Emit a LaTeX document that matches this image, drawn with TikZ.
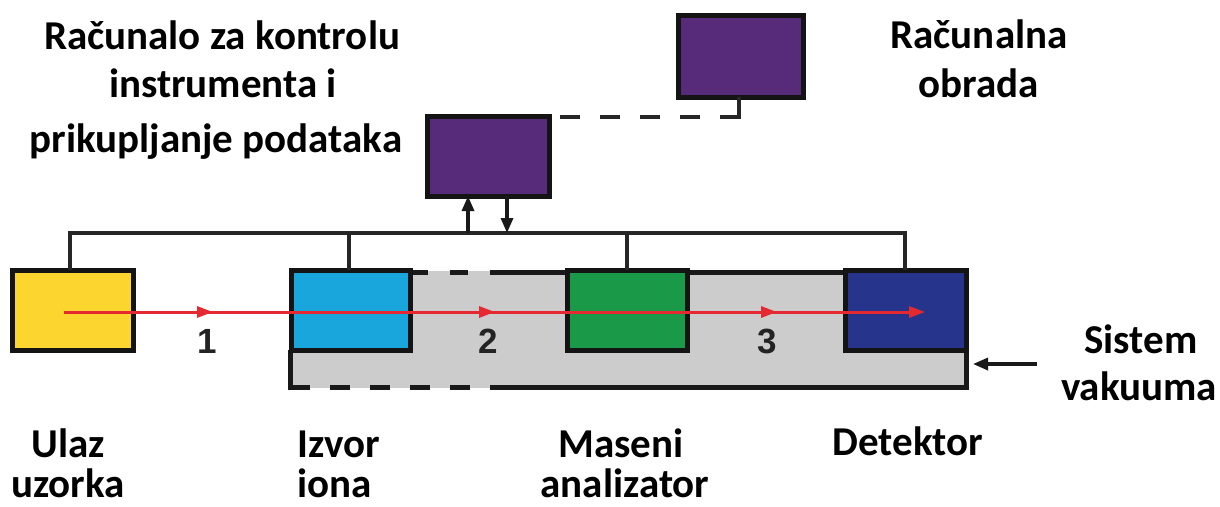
\documentclass[tikz,border=0pt]{standalone}
\usepackage{fontspec}
\setmainfont{Carlito}
\newfontfamily\digitfont{Liberation Sans}
\usetikzlibrary{arrows.meta,decorations.markings}
\definecolor{cyellow}{RGB}{252,214,47}
\definecolor{cblue}{RGB}{24,166,220}
\definecolor{cgreen}{RGB}{26,154,72}
\definecolor{cnavy}{RGB}{39,52,139}
\definecolor{cpurple}{RGB}{88,42,122}
\definecolor{cgray}{RGB}{204,204,204}
\definecolor{cred}{RGB}{228,42,48}
\definecolor{cdigit}{RGB}{35,35,35}
\begin{document}
\begin{tikzpicture}[x=1pt,y=-1pt,
  lbl/.style={font=\fontsize{41}{41}\selectfont\bfseries, anchor=base, inner sep=0pt},
  num/.style={font=\digitfont\fontsize{35}{35}\selectfont\bfseries, text=cdigit, anchor=base, inner sep=0pt},
  unitbox/.style={draw=black!92, line width=5pt, inner sep=0pt, outer sep=0pt},
  bus/.style={draw=black!85, line width=3.2pt},
  vline/.style={draw=black!90, line width=5pt},
  sigarrow/.style={draw=black!90, line width=3.2pt, -{Triangle[length=15pt,width=12pt]}},
  ray/.style={draw=cred, line width=3pt}]
\useasboundingbox (0,0) rectangle (1220,506);
\fill[white] (0,0) rectangle (1220,506);

% vacuum system
\node[fill=cgray, inner sep=0pt, minimum width=676pt, minimum height=117pt] (vac) at (628,329.5) {};
\draw[vline] (490,272) -- (966,272) -- (966,387) -- (490,387);
\draw[vline, dash pattern=on 20pt off 20pt] (290,387) -- (490,387);
\draw[vline] (290,350) -- (290,389.5);
\draw[vline, dash pattern=on 18pt off 22pt] (410,272) -- (490,272);

% units
\node[unitbox, fill=cyellow, minimum width=121pt, minimum height=80pt] (ulaz) at (72.5,310) {};
\node[unitbox, fill=cblue, minimum width=119pt, minimum height=80pt] (izvor) at (350.5,310) {};
\node[unitbox, fill=cgreen, minimum width=120pt, minimum height=80pt] (maseni) at (627,310) {};
\node[unitbox, fill=cnavy, minimum width=121pt, minimum height=80pt] (det) at (905.5,310) {};
\node[unitbox, fill=cpurple, minimum width=122pt, minimum height=80pt] (pc1) at (488,156) {};
\node[unitbox, fill=cpurple, minimum width=125pt, minimum height=82pt] (pc2) at (740.5,56) {};

% bus
\coordinate (busy) at (0,233);
\draw[bus] (ulaz.north -| 70,0) -- (70,233) -- (905,233) -- (det.north -| 905,0);
\draw[bus] (izvor.north -| 349,0) -- (349,233);
\draw[bus] (maseni.north) -- (maseni.north |- busy);
\coordinate (upfoot) at (468,233);
\coordinate (downfoot) at (507,233);
\draw[sigarrow] (upfoot) -- (pc1.south -| upfoot);
\draw[sigarrow] (pc1.south -| downfoot) -- (downfoot);

% link between computers
\coordinate (lk) at (739,117);
\draw[black!85, line width=3.2pt] (pc2.south -| lk) -- (lk) -- (720,117);
\draw[black!85, line width=3.2pt, dash pattern=on 20pt off 20pt, dash phase=20pt] (720,117) -- (pc1.north east |- lk);

% ion path
\coordinate (rs) at (64,312);
\coordinate (re) at (925,312);
\draw[ray, -{Triangle[length=16pt,width=11pt]},
  postaction={decorate},
  decoration={markings,
    mark=at position 149pt with {\arrow{Triangle[length=16pt,width=11pt]}},
    mark=at position 431pt with {\arrow{Triangle[length=16pt,width=11pt]}},
    mark=at position 713pt with {\arrow{Triangle[length=16pt,width=11pt]}}}]
  (rs) -- (re);

\node[num] (n1) at (207,353) {1};
\node[num] (n2) at (488,353) {2};
\node[num] (n3) at (767,353) {3};

% vacuum arrow
\coordinate (vs) at (1037,364);
\coordinate (ve) at (973,364);
\draw[sigarrow] (vs) -- (ve);

% labels
\node[lbl] (t1) at (222,49) {Računalo za kontrolu};
\node[lbl] (t2) at (223,97) {instrumenta i};
\node[lbl] (t3) at (216,152) {prikupljanje podataka};
\node[lbl] (r1) at (979,48) {Računalna};
\node[lbl] (r2) at (979,97) {obrada};
\node[lbl] (s1) at (1141,353) {Sistem};
\node[lbl] (s2) at (1139,400) {vakuuma};
\node[lbl] (u1) at (68,457) {Ulaz};
\node[lbl] (u2) at (68,497) {uzorka};
\node[lbl] (i1) at (339,457) {Izvor};
\node[lbl] (i2) at (335,497) {iona};
\node[lbl] (m1) at (621,457) {Maseni};
\node[lbl] (m2) at (625,497) {analizator};
\node[lbl] (d1) at (908,455) {Detektor};
\end{tikzpicture}
\end{document}
